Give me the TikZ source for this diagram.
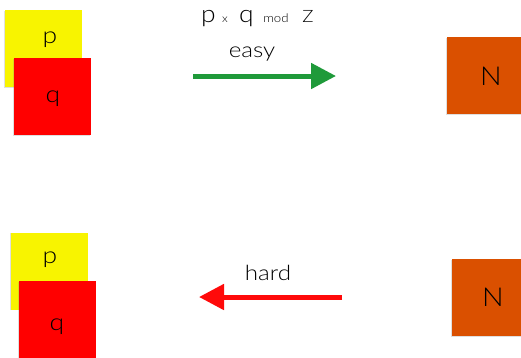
\documentclass[tikz,border=0pt]{standalone}
\usepackage{fontspec}
\setmainfont{Lato}[UprightFont=* Light]
\usetikzlibrary{arrows.meta,shadows}
\definecolor{cardyellow}{HTML}{F8F400}
\definecolor{cardred}{HTML}{FF0000}
\definecolor{cardorange}{HTML}{DA5000}
\definecolor{easygreen}{HTML}{1F9A3A}
\definecolor{hardred}{HTML}{FF0A0A}
\tikzset{
  card/.style={rectangle, inner sep=0pt, minimum width=77pt, minimum height=77pt,
    draw=none, drop shadow={shadow xshift=-0.6pt, shadow yshift=-0.8pt, opacity=0.25}},
  letter/.style={anchor=base, inner sep=0pt, xscale=1.15, font=\fontsize{23}{23}\selectfont},
  bigletter/.style={anchor=base, inner sep=0pt, xscale=1.1, font=\fontsize{26}{26}\selectfont},
  caption/.style={anchor=base, inner sep=0pt, xscale=1.15, font=\fontsize{21}{21}\selectfont},
  formula/.style={anchor=base, inner sep=0pt, xscale=1.1},
  bigarrow/.style={line width=5pt, -{Triangle[length=25pt,width=25pt]}},
}
\begin{document}
\begin{tikzpicture}[x=1pt,y=-1pt]
  \useasboundingbox (0,0) rectangle (521,357);
  % multiplication: p and q give N
  \node[card, fill=cardyellow] (p1) at (43.5,48.5) {};
  \node[card, fill=cardred] (q1) at (52.5,96.5) {};
  \node[card, fill=cardorange] (n1) at (485.5,75.5) {};
  \node[letter] (p1t) at (50,43) {p};
  \node[letter] (q1t) at (53,102) {q};
  \node[bigletter] (n1t) at (491,85) {N};

  % the formula above the arrow
  \node[formula, font=\fontsize{24}{24}\selectfont] (fp) at (208.5,22) {p};
  \node[formula, font=\fontsize{11}{11}\selectfont] (fx) at (225,22) {x};
  \node[formula, font=\fontsize{24}{24}\selectfont] (fq) at (246.5,22) {q};
  \node[formula, font=\fontsize{12}{12}\selectfont] (fmod) at (276,22) {mod};
  \node[formula, font=\fontsize{17}{17}\selectfont] (fz) at (308,22) {Z};

  \node[caption] (easy) at (252,57) {easy};
  \coordinate (e1) at (193,76);
  \coordinate (e2) at (336,76);
  \draw[bigarrow, easygreen] (e1) -- (e2);

  % factoring: N back to p and q
  \node[card, fill=cardyellow] (p2) at (49.5,271) {};
  \node[card, fill=cardred] (q2) at (57.5,319.5) {};
  \node[card, fill=cardorange] (n2) at (490.5,297.5) {};
  \node[letter] (p2t) at (50,263) {p};
  \node[letter] (q2t) at (57,330) {q};
  \node[bigletter] (n2t) at (493,306) {N};

  \node[caption] (hard) at (268,280) {hard};
  \coordinate (h1) at (342,297);
  \coordinate (h2) at (199,297);
  \draw[bigarrow, hardred] (h1) -- (h2);
\end{tikzpicture}
\end{document}
